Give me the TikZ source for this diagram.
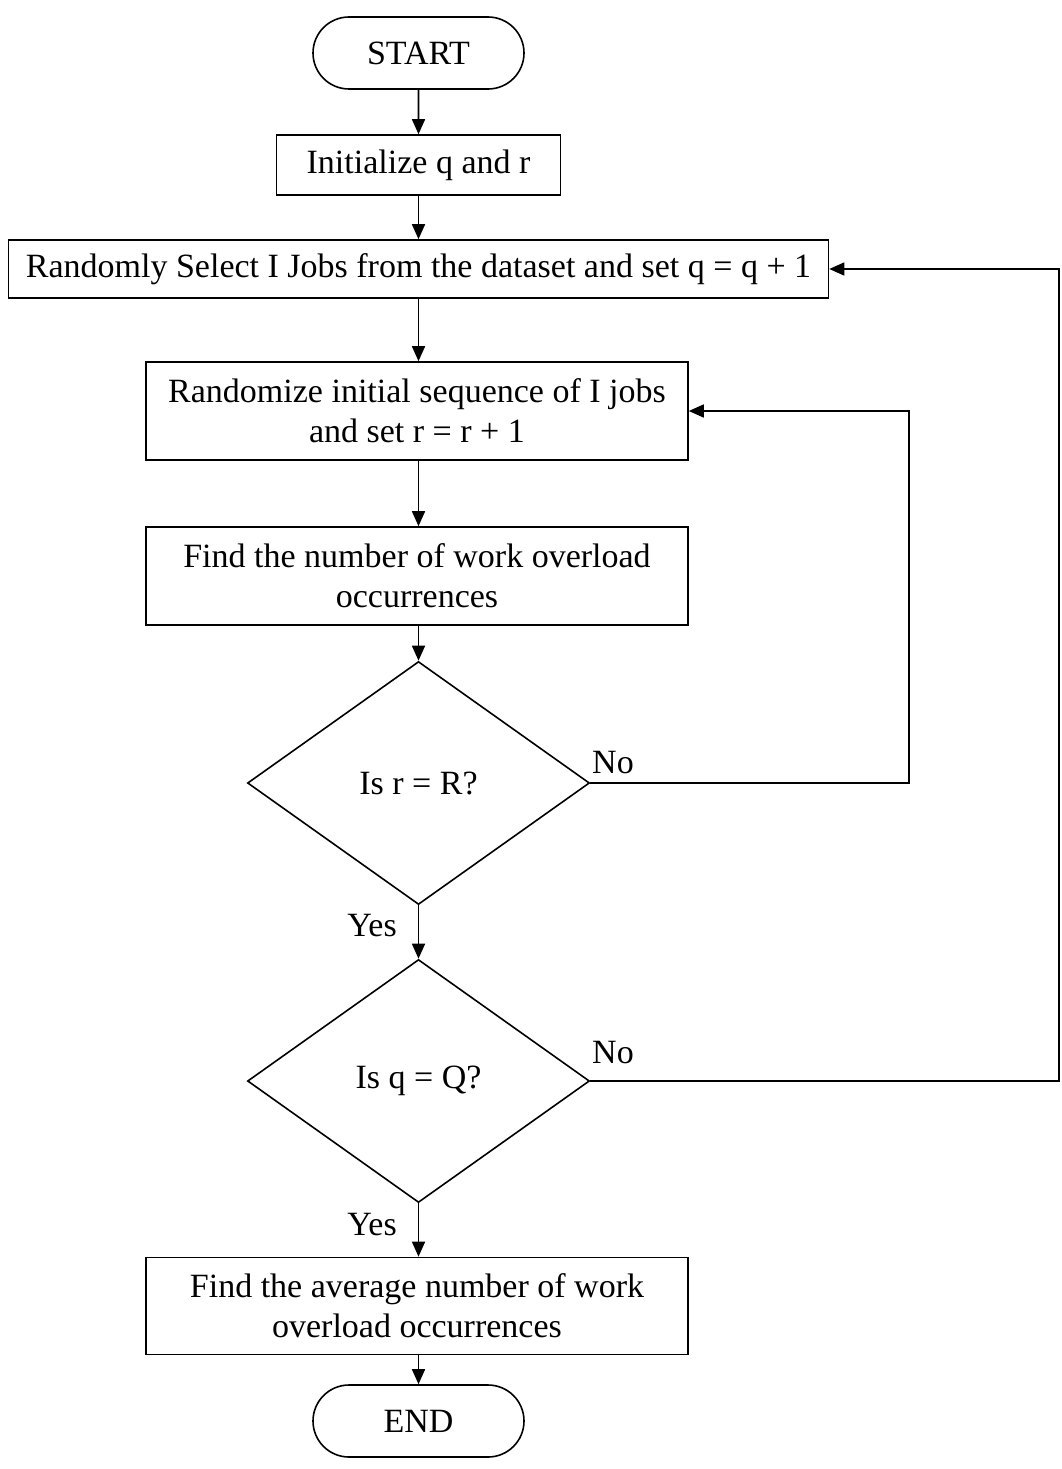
\documentclass[tikz,border=0pt]{standalone}
\usepackage{fontspec}
\setmainfont{Liberation Serif}
\usetikzlibrary{shapes.geometric,shapes.misc,arrows.meta}
\begin{document}
\begin{tikzpicture}[x=1pt,y=-1pt,
  every node/.style={font=\fontsize{34}{40}\selectfont},
  box/.style={draw,line width=1.6pt,rectangle,inner sep=0pt,align=center},
  term/.style={draw,line width=1.6pt,rounded rectangle,minimum width=211pt,minimum height=72pt,inner sep=0pt},
  decide/.style={draw,line width=1.6pt,diamond,minimum width=342pt,minimum height=243pt,inner sep=0pt},
  flow/.style={line width=1.6pt,-{Triangle[length=15pt,width=13pt]}},
  lbl/.style={inner sep=0pt}]
\useasboundingbox (0,0) rectangle (1062,1469);
\node[term] (start) at (418.5,53) {START};
\node[box,minimum width=284pt,minimum height=60pt] (init) at (418.5,165) {Initialize q and r};
\node[box,minimum width=820pt,minimum height=58pt] (sel) at (418.5,269) {Randomly Select I Jobs from the dataset and set q = q + 1};
\node[box,minimum width=542pt,minimum height=98pt] (rnd) at (417,411) {Randomize initial sequence of I jobs\\and set r = r + 1};
\node[box,minimum width=542pt,minimum height=98pt] (find) at (417,576) {Find the number of work overload\\occurrences};
\node[decide] (d1) at (418.5,783) {Is r = R?};
\node[decide] (d2) at (418.5,1081) {Is q = Q?};
\node[box,minimum width=542pt,minimum height=97pt] (avg) at (417,1306) {Find the average number of work\\overload occurrences};
\node[term] (end) at (418.5,1421) {END};
\coordinate (c1) at (909,783);
\coordinate (c2) at (1059,1081);
\draw[flow] (start) -- (init);
\draw[flow] (init) -- (init|-sel.north);
\draw[flow] (init|-sel.south) -- (init|-rnd.north);
\draw[flow] (init|-rnd.south) -- (init|-find.north);
\draw[flow] (init|-find.south) -- (d1.north);
\draw[flow] (d1.south) -- (d2.north);
\draw[flow] (d2.south) -- (d2.south|-avg.north);
\draw[flow] (d2.south|-avg.south) -- (d2.south|-end.north);
\draw[flow] (d1.east) -- (c1) |- (rnd.east);
\draw[flow] (d2.east) -- (c2) |- (sel.east);
\node[lbl] at (613,763) {No};
\node[lbl] at (613,1053) {No};
\node[lbl] at (372,926) {Yes};
\node[lbl] at (372,1225) {Yes};
\end{tikzpicture}
\end{document}
